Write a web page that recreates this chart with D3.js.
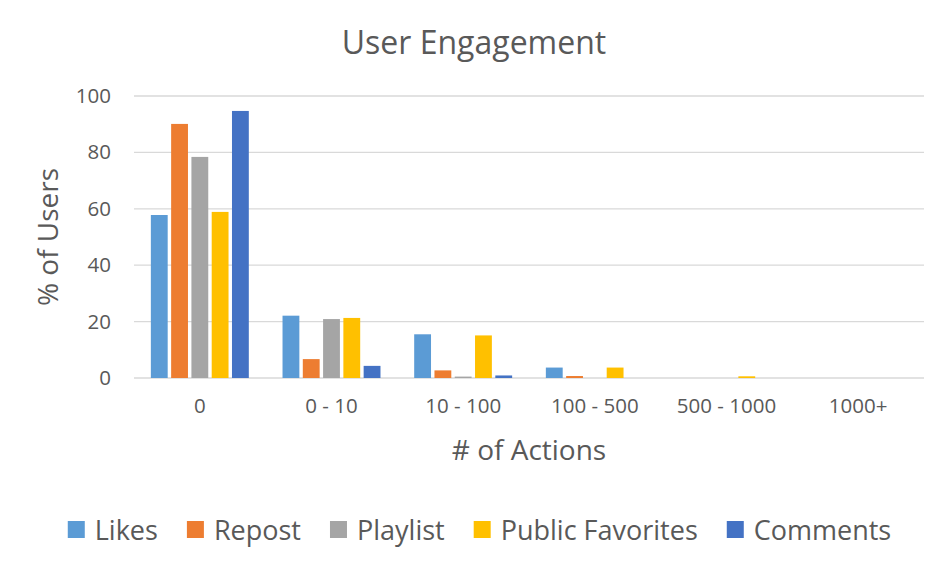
<!DOCTYPE html>
<html>
<head>
<meta charset="utf-8">
<script src="https://cdn.jsdelivr.net/npm/d3@7"></script>
<style>
  body { margin: 0; background: #fff; }
  text { font-family: "Open Sans", sans-serif; fill: #595959; }
</style>
</head>
<body>
<div id="chart"></div>
<script>
// categories on the x axis
const categories = ["0", "0 - 10", "10 - 100", "100 - 500", "500 - 1000", "1000+"];
const seriesNames = ["Likes", "Repost", "Playlist", "Public Favorites", "Comments"];
const seriesColors = ["#5b9bd5", "#ed7d31", "#a5a5a5", "#ffc000", "#4472c4"];

// % of users per bucket, one array per series
const likes = [57.8, 22.1, 15.5, 3.7, 0, 0];
const repost = [90.1, 6.7, 2.7, 0.7, 0, 0];
const playlist = [78.4, 20.9, 0.5, 0, 0, 0];
const publicFavorites = [58.9, 21.3, 15.1, 3.7, 0.6, 0];
const comments = [94.7, 4.3, 0.9, 0, 0, 0];

const yTicks = [0, 20, 40, 60, 80, 100];

const seriesValues = [likes, repost, playlist, publicFavorites, comments];

const width = 948, height = 566;
const margin = { top: 96, right: 24, bottom: 188, left: 134 };
const plotW = width - margin.left - margin.right;
const plotH = height - margin.top - margin.bottom;

const svg = d3.select("#chart").append("svg")
    .attr("width", width)
    .attr("height", height);

const g = svg.append("g")
    .attr("transform", "translate(" + margin.left + "," + margin.top + ")");

const x0 = d3.scaleBand()
    .domain(categories)
    .range([0, plotW])
    .paddingInner(0.256)
    .paddingOuter(0.128);

const x1 = d3.scaleBand()
    .domain(seriesNames)
    .range([0, x0.bandwidth()])
    .paddingInner(0.17);

const y = d3.scaleLinear()
    .domain([0, 100])
    .range([plotH, 0]);

const color = d3.scaleOrdinal().domain(seriesNames).range(seriesColors);

// gridlines
g.append("g")
    .selectAll("line")
    .data(yTicks)
    .join("line")
    .attr("x1", 0)
    .attr("x2", plotW)
    .attr("y1", d => y(d))
    .attr("y2", d => y(d))
    .attr("stroke", "#d9d9d9")
    .attr("stroke-width", 1.3);

// y axis labels
const yAxis = d3.axisLeft(y).tickValues(yTicks).tickSize(0).tickPadding(23);
g.append("g")
    .call(yAxis)
    .call(a => a.select(".domain").remove())
    .selectAll("text")
    .attr("font-size", 20.5)
    .style("font-family", "'Open Sans', sans-serif")
    .attr("fill", "#595959");

// x axis labels
const xAxis = d3.axisBottom(x0).tickSize(0).tickPadding(20);
g.append("g")
    .attr("transform", "translate(0," + plotH + ")")
    .call(xAxis)
    .call(a => a.select(".domain").remove())
    .selectAll("text")
    .attr("font-size", 20.5)
    .style("font-family", "'Open Sans', sans-serif")
    .attr("fill", "#595959");

// bars
const groups = g.append("g")
    .selectAll("g")
    .data(categories)
    .join("g")
    .attr("transform", d => "translate(" + x0(d) + ",0)");

groups.selectAll("rect")
    .data((c, i) => seriesNames.map((s, k) => ({ key: s, value: seriesValues[k][i] })))
    .join("rect")
    .attr("x", d => x1(d.key))
    .attr("width", x1.bandwidth())
    .attr("y", d => y(d.value))
    .attr("height", d => plotH - y(d.value))
    .attr("fill", d => color(d.key));

// title
svg.append("text")
    .attr("x", 474)
    .attr("y", 54)
    .attr("text-anchor", "middle")
    .attr("font-size", 32)
    .text("User Engagement");

// axis titles
svg.append("text")
    .attr("transform", "translate(58,237) rotate(-90)")
    .attr("text-anchor", "middle")
    .attr("font-size", 28)
    .text("% of Users");

svg.append("text")
    .attr("x", margin.left + plotW / 2)
    .attr("y", 460)
    .attr("text-anchor", "middle")
    .attr("font-size", 28)
    .text("# of Actions");

// legend, laid out from measured text widths and centred
const legend = svg.append("g");
const items = legend.selectAll("g")
    .data(seriesNames)
    .join("g");

items.append("rect")
    .attr("width", 17)
    .attr("height", 17)
    .attr("y", -17)
    .attr("fill", d => color(d));

items.append("text")
    .attr("x", 27)
    .attr("font-size", 27)
    .attr("y", 0)
    .attr("dy", "0.07em")
    .text(d => d);

let offset = 0;
items.each(function () {
    const w = 27 + this.querySelector("text").getComputedTextLength();
    d3.select(this).attr("transform", "translate(" + offset + ",0)");
    offset += w + 29;
});
offset -= 29;
legend.attr("transform", "translate(" + (479.5 - offset / 2) + ",538)");
</script>
</body>
</html>
